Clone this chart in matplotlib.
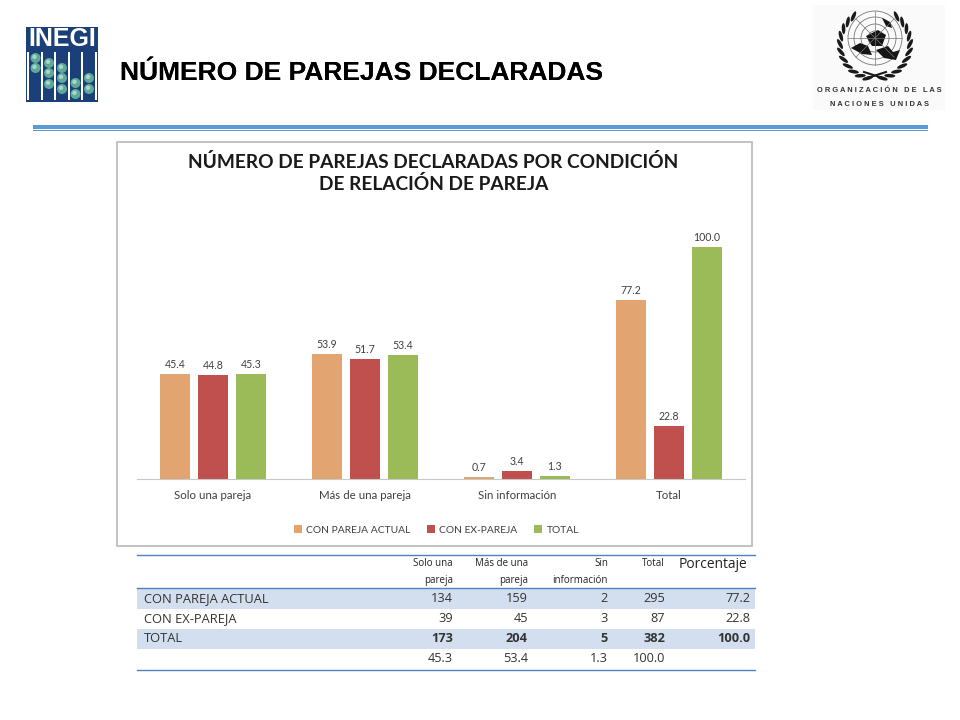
import numpy as np
import matplotlib
matplotlib.use("Agg")
import matplotlib.pyplot as plt
from matplotlib.patches import Rectangle, Circle, Ellipse, Polygon

categories = ["Solo una pareja", "Más de una pareja", "Sin información", "Total"]
series_names = ["CON PAREJA ACTUAL", "CON EX-PAREJA", "TOTAL"]
con_pareja = [45.4, 53.9, 0.7, 77.2]
con_ex = [44.8, 51.7, 3.4, 22.8]
total = [45.3, 53.4, 1.3, 100.0]
series_colors = ["#E2A470", "#C0504D", "#9BBB59"]

table_headers = [["Solo una", "pareja"], ["Más de una", "pareja"], ["Sin", "información"], ["Total"]]
row_labels = ["CON PAREJA ACTUAL", "CON EX-PAREJA", "TOTAL", ""]
row_values = [
    ["134", "159", "2", "295", "77.2"],
    ["39", "45", "3", "87", "22.8"],
    ["173", "204", "5", "382", "100.0"],
    ["45.3", "53.4", "1.3", "100.0", ""],
]

FONT = "Lato"
GREY = "#404040"

fig = plt.figure(figsize=(9.6, 7.2), dpi=100)
bg = fig.add_axes([0, 0, 1, 1])
bg.set_xlim(0, 960)
bg.set_ylim(720, 0)
bg.axis("off")

# header title, drawn twice for the heavy look of the slide
for dx in (0, 0.6):
    bg.text(119.5 + dx, 73, "NÚMERO DE PAREJAS DECLARADAS", family="Liberation Sans",
            weight="bold", fontsize=19, va="center", color="black")

# rule under header
bg.add_patch(Rectangle((33, 125), 895, 4.2, color="#5B9BD5", lw=0))
bg.add_patch(Rectangle((33, 130), 895, 1.3, color="#5B9BD5", lw=0))

# INEGI logo
bg.add_patch(Rectangle((26, 27), 72, 75, color="#1B3F78", lw=0))
bg.text(62, 39.5, "INEGI", color="white", weight="bold", fontsize=18, ha="center", va="center",
        family="Liberation Sans")
for x in (28, 42, 55, 69, 82, 96):
    bg.add_patch(Rectangle((x - 1, 52), 2.4, 48, color="white", lw=0))
balls = {35.5: (58, 68), 49: (63, 73, 84), 62: (68, 78, 89), 75.5: (83, 94), 89: (78, 89)}
for x, ys in balls.items():
    for y in ys:
        bg.add_patch(Circle((x, y), 5, color="#5FA89A", lw=0))
        bg.add_patch(Circle((x - 1, y - 1.2), 2.2, color="#A9D6C6", lw=0))

# UN emblem
bg.add_patch(Rectangle((813, 5), 132, 105, color="#FAFAFA", lw=0))
cx, cy = 875, 38
for r in (7, 14, 21, 27):
    bg.add_patch(Circle((cx, cy), r, fill=False, ec="#777777", lw=0.6))
for ang in np.arange(0, 180, 45):
    dx, dy = 27 * np.cos(np.radians(ang)), 27 * np.sin(np.radians(ang))
    bg.plot([cx - dx, cx + dx], [cy - dy, cy + dy], color="#777777", lw=0.5)
for pts in ([(851, 48), (860, 43), (868, 46), (872, 55), (862, 54)],
            [(866, 36), (878, 30), (886, 35), (882, 46), (872, 46)],
            [(876, 50), (888, 46), (893, 52), (900, 50), (896, 60), (884, 58)],
            [(882, 18), (890, 22), (892, 28), (886, 26)]):
    bg.add_patch(Polygon(pts, color="#151515", lw=0))
for side in (-1, 1):
    for t in np.arange(-52, 80, 13):
        lx = cx + side * 35 * np.cos(np.radians(t))
        ly = cy + 6 + 35 * np.sin(np.radians(t))
        bg.add_patch(Ellipse((lx, ly), 11, 3.6, angle=side * (t + 90 + 28), color="#1A1A1A", lw=0))
bg.plot([864, 886], [79, 72], color="#1A1A1A", lw=1.5)
bg.plot([886, 864], [79, 72], color="#1A1A1A", lw=1.5)
bg.text(879, 90.5, "O R G A N I Z A C I Ó N   D E   L A S", fontsize=5.4, weight="bold",
        family="Liberation Sans", color="#333333", ha="center", va="center")
bg.text(879, 104, "N A C I O N E S   U N I D A S", fontsize=5.4, weight="bold",
        family="Liberation Sans", color="#333333", ha="center", va="center")

# chart card
bg.add_patch(Rectangle((117, 142), 635, 404, fc="white", ec="#BDBDBD", lw=1.3))
bg.text(433.5, 173, "NÚMERO DE PAREJAS DECLARADAS POR CONDICIÓN\nDE RELACIÓN DE PAREJA",
        family=FONT, weight="bold", fontsize=13.8, color="#1A1A1A", ha="center", va="center",
        linespacing=1.25)

# bars, pixel box 137..745 x, baseline y=479, 100 at y=247
ax = fig.add_axes([137 / 960, 1 - 479 / 720, 608 / 960, 259 / 720])
ax.patch.set_alpha(0)
x = np.arange(len(categories))
for i, (vals, name) in enumerate(zip([con_pareja, con_ex, total], series_names)):
    bars = ax.bar(x + (i - 1) * 0.25, vals, 0.2, color=series_colors[i], label=name)
    ax.bar_label(bars, fmt="%.1f", padding=3, fontsize=7.6, family=FONT, color=GREY)
ax.set_xlim(-0.5, 3.5)
ax.set_ylim(0, 259 / 2.32)
ax.set_yticks([])
ax.set_xticks(x)
ax.set_xticklabels(categories, family=FONT, fontsize=8.3, color=GREY)
ax.tick_params(axis="x", length=0, pad=8)
for s in ("top", "left", "right"):
    ax.spines[s].set_visible(False)
ax.spines["bottom"].set_color("#C8C8C8")
ax.legend(loc="center", bbox_to_anchor=(436.5 / 960, 1 - 530 / 720), bbox_transform=fig.transFigure,
          ncol=3, frameon=False, prop={"family": FONT, "size": 7.4}, labelcolor=GREY,
          handlelength=0.8, handleheight=0.8, handletextpad=0.4, columnspacing=1.6)

# table
col_right = [453, 528, 608, 665, 750]
row_tops = [588, 609, 629, 649]
row_h = [21, 20, 20, 20]
bg.plot([137, 755], [555, 555], color="#4F81BD", lw=1)
bg.plot([137, 755], [588, 588], color="#4F81BD", lw=1)
bg.plot([137, 755], [669.5, 669.5], color="#4F81BD", lw=1)
for top, h in zip(row_tops[0::2], row_h[0::2]):
    bg.add_patch(Rectangle((137, top), 618, h, color="#D3DFEE", lw=0))
for col, lines in zip(col_right, table_headers):
    for j, line in enumerate(lines):
        bg.text(col, 563 + j * 17.5, line, family="Open Sans", fontsize=7.0, ha="right", va="center",
                color="#222222")
bg.text(col_right[4] - 3, 565, "Porcentaje", family="Open Sans", fontsize=9.9, ha="right", va="center",
        color="#222222")
for i, (label, vals) in enumerate(zip(row_labels, row_values)):
    yc = row_tops[i] + row_h[i] / 2
    bg.text(144, yc, label, family="Open Sans", fontsize=9.3, va="center", color="#333333")
    for col, val in zip(col_right, vals):
        bg.text(col, yc, val, family="Open Sans", fontsize=9.2, ha="right", va="center", color="#333333",
                weight="bold" if i == 2 else "normal")

fig.savefig("out.png", dpi=100)
